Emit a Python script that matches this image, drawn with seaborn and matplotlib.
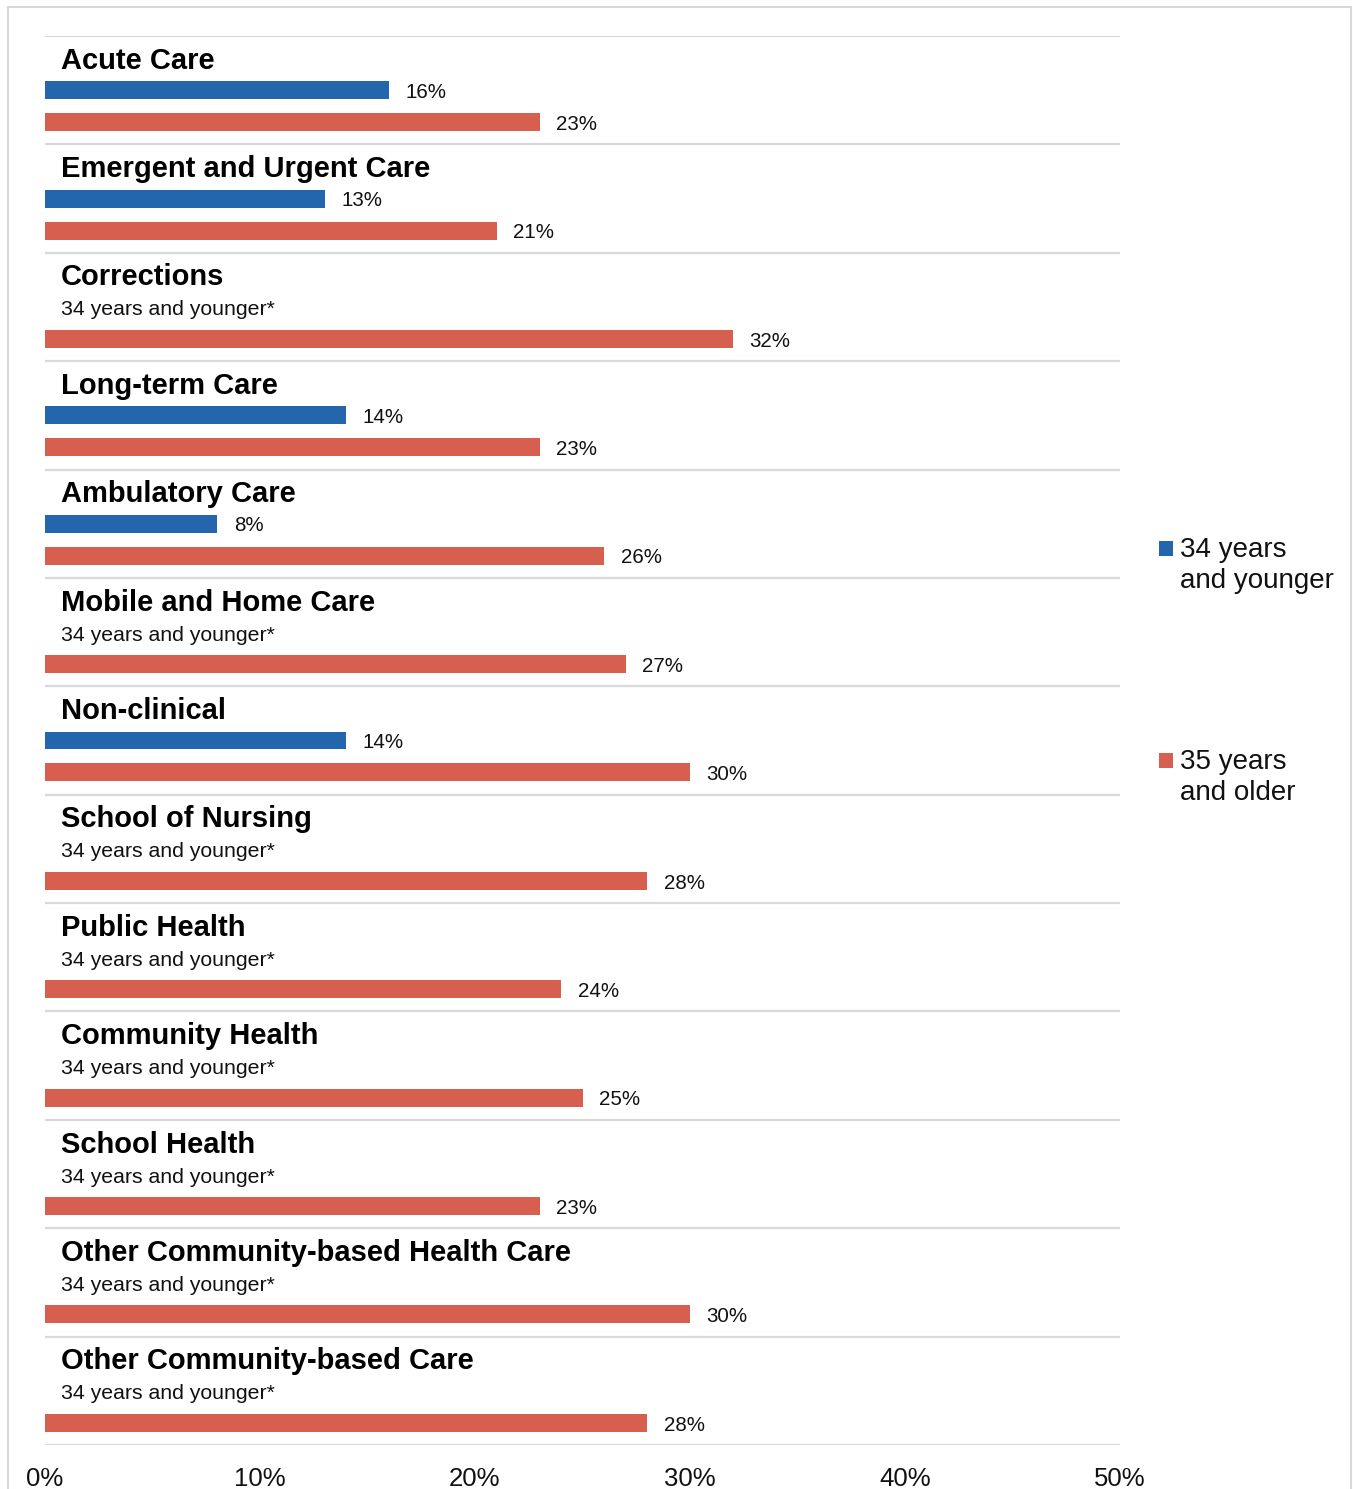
import numpy as np
import pandas as pd
import matplotlib
matplotlib.use("Agg")
import matplotlib.pyplot as plt
from matplotlib.patches import Rectangle
from matplotlib.transforms import blended_transform_factory
import seaborn as sns

# ---- data -------------------------------------------------------------
categories = [
    "Acute Care",
    "Emergent and Urgent Care",
    "Corrections",
    "Long-term Care",
    "Ambulatory Care",
    "Mobile and Home Care",
    "Non-clinical",
    "School of Nursing",
    "Public Health",
    "Community Health",
    "School Health",
    "Other Community-based Health Care",
    "Other Community-based Care",
]
# None = value suppressed for that group
younger = [16, 13, None, 14, 8, None, 14, None, None, None, None, None, None]
older = [23, 21, 32, 23, 26, 27, 30, 28, 24, 25, 23, 30, 28]
series_names = ["34 years and younger", "35 years and older"]
legend_labels = ["34 years\nand younger", "35 years\nand older"]
suppressed_note = "34 years and younger*"
x_ticks = [0, 10, 20, 30, 40, 50]

# ---- styling ----------------------------------------------------------
BLUE = "#2366AE"
RED = "#D75F4F"
GRID = "#D9D9D9"
palette = {series_names[0]: BLUE, series_names[1]: RED}

sns.set_theme(style="white")
plt.rcParams["font.family"] = ["Liberation Sans", "DejaVu Sans"]

W, H = 1353, 1489
fig = plt.figure(figsize=(W / 100, H / 100), dpi=100)
ax = fig.add_axes([45 / W, 1 - 1445 / H, 1075 / W, 1409 / H])

# slot positions inside each group band (band height = 1)
TITLE_Y, YOUNG_Y, OLD_Y, BAR_H = 0.228, 0.50, 0.795, 0.166
NOTE_Y = 0.528

rows = []
for g, cat in enumerate(categories):
    if younger[g] is not None:
        rows.append((cat, series_names[0], younger[g], g + YOUNG_Y))
    rows.append((cat, series_names[1], older[g], g + OLD_Y))
df = pd.DataFrame(rows, columns=["category", "series", "value", "pos"])

spacing = np.diff(np.sort(df["pos"].unique())).min()
sns.barplot(
    data=df, x="value", y="pos", hue="series", orient="y",
    native_scale=True, dodge=False, width=BAR_H / spacing,
    palette=palette, saturation=1, linewidth=0, legend=False, ax=ax,
)

ax.set_xlim(0, 50)
ax.set_ylim(len(categories), 0)
for s in ax.spines.values():
    s.set_visible(False)
ax.set_xlabel("")
ax.set_ylabel("")
ax.set_yticks([])
ax.set_xticks(x_ticks)
ax.set_xticklabels([f"{t}%" for t in x_ticks], fontsize=18.5, color="#111111")
ax.tick_params(axis="x", length=0, pad=16)

# group separators
for g in range(len(categories) + 1):
    ax.axhline(g, color=GRID, lw=1.6, zorder=0)

# group titles and notes
tr = blended_transform_factory(ax.transAxes, ax.transData)
for g, cat in enumerate(categories):
    ax.text(16 / 1075, g + TITLE_Y, cat, transform=tr, fontsize=21,
            fontweight="bold", va="center", ha="left", color="#000000")
    if younger[g] is None:
        ax.text(16 / 1075, g + NOTE_Y, suppressed_note, transform=tr,
                fontsize=15.3, va="center", ha="left", color="#111111")

# value labels
for _, r in df.iterrows():
    ax.annotate(f"{r['value']}%", xy=(r["value"], r["pos"]),
                xytext=(12, -1.6), textcoords="offset points",
                fontsize=14.8, va="center", ha="left", color="#111111")

# legend
for i, (lab, col) in enumerate(zip(legend_labels, [BLUE, RED])):
    top = 541 + i * 212
    fig.add_artist(Rectangle((1159 / W, 1 - (top + 15) / H), 14 / W, 15 / H,
                             transform=fig.transFigure, facecolor=col,
                             edgecolor="none"))
    fig.text(1180 / W, 1 - (top + 24.5) / H, lab, fontsize=20, va="center",
             ha="left", linespacing=1.25, color="#111111")

# outer frame
fig.add_artist(Rectangle((8 / W, -0.01), 1343 / W, 1 - 7 / H + 0.01,
                         transform=fig.transFigure, facecolor="none",
                         edgecolor=GRID, lw=1.5))

fig.savefig("out.png", dpi=100)
